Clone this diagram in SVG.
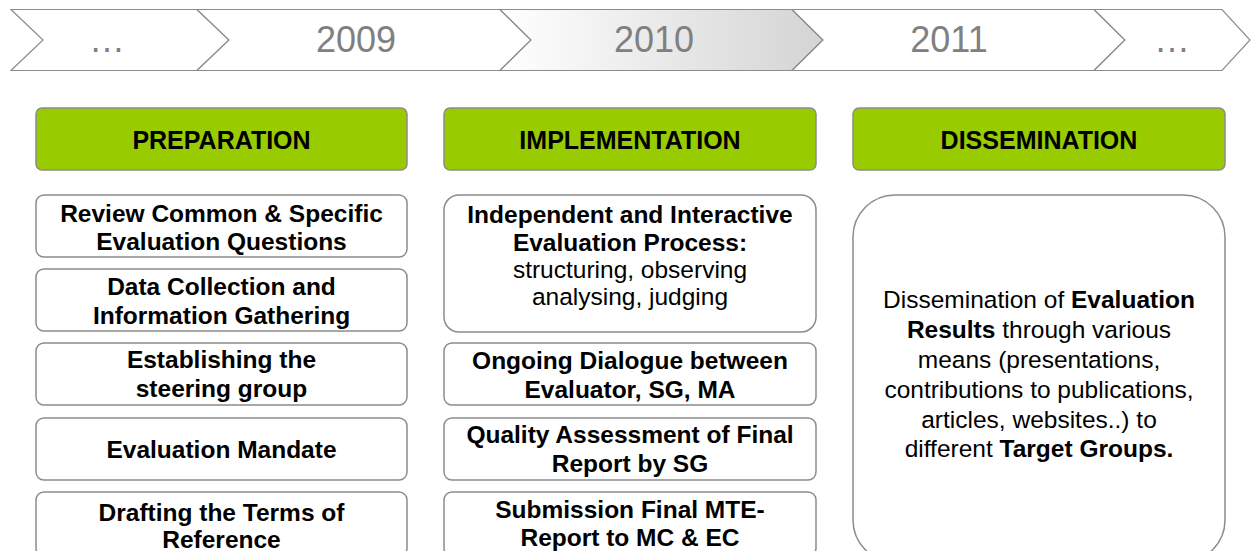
<svg xmlns="http://www.w3.org/2000/svg" width="1251" height="551" viewBox="0 0 1251 551">
<defs>
<linearGradient id="g2010" x1="0" y1="0" x2="1" y2="0">
<stop offset="0" stop-color="#ffffff"/>
<stop offset="1" stop-color="#d4d4d4"/>
</linearGradient>
</defs>
<style>
.chev{fill:#ffffff;stroke:#8c8c8c;stroke-width:1.2}
.year{font-family:"Liberation Sans",Arial,sans-serif;font-size:36px;fill:#808080;text-anchor:middle}
.hdr{fill:#99cc00;stroke:#8c8c8c;stroke-width:1.5}
.hdrt{font-family:"Liberation Sans",Arial,sans-serif;font-size:25px;font-weight:bold;fill:#000;text-anchor:middle}
.box{fill:#ffffff;stroke:#8c8c8c;stroke-width:1.5}
.bt{font-family:"Liberation Sans",Arial,sans-serif;font-size:24.5px;font-weight:bold;fill:#000;text-anchor:middle}
.rt{font-family:"Liberation Sans",Arial,sans-serif;font-size:24.5px;fill:#000;text-anchor:middle}
.b{font-weight:bold}
</style>
<g id="timeline">
<polygon class="chev" points="11,9.5 197,9.5 229,40 197,70.5 11,70.5 43,40"/>
<polygon class="chev" points="197,9.5 500,9.5 531,40 500,70.5 197,70.5 229,40"/>
<polygon class="chev" style="fill:url(#g2010)" points="500,9.5 792,9.5 823,40 792,70.5 500,70.5 531,40"/>
<polygon class="chev" points="792,9.5 1094,9.5 1125,40 1094,70.5 792,70.5 823,40"/>
<polygon class="chev" points="1094,9.5 1222,9.5 1250,40 1222,70.5 1094,70.5 1125,40"/>
<text class="year" x="107" y="52">…</text>
<text class="year" x="356" y="52">2009</text>
<text class="year" x="654" y="52">2010</text>
<text class="year" x="949" y="52">2011</text>
<text class="year" x="1172" y="52">…</text>
</g>
<g id="preparation">
<rect class="hdr" x="36" y="108" width="371" height="62" rx="6"/>
<text class="hdrt" x="221.5" y="149">PREPARATION</text>
</g>
<g id="implementation">
<rect class="hdr" x="444" y="108" width="372" height="62" rx="6"/>
<text class="hdrt" x="630" y="149">IMPLEMENTATION</text>
</g>
<g id="dissemination">
<rect class="hdr" x="853" y="108" width="372" height="62" rx="6"/>
<text class="hdrt" x="1039" y="149">DISSEMINATION</text>
</g>
<g id="review">
<rect class="box" x="36" y="195" width="371" height="62" rx="8"/>
<text class="bt" x="221.5" y="222">Review Common &amp; Specific</text>
<text class="bt" x="221.5" y="250">Evaluation Questions</text>
</g>
<g id="data">
<rect class="box" x="36" y="269" width="371" height="62" rx="8"/>
<text class="bt" x="221.5" y="295">Data Collection and</text>
<text class="bt" x="221.5" y="324">Information Gathering</text>
</g>
<g id="steering">
<rect class="box" x="36" y="343" width="371" height="62" rx="8"/>
<text class="bt" x="221.5" y="368">Establishing the</text>
<text class="bt" x="221.5" y="397">steering group</text>
</g>
<g id="mandate">
<rect class="box" x="36" y="418" width="371" height="62" rx="8"/>
<text class="bt" x="221.5" y="458">Evaluation Mandate</text>
</g>
<g id="terms">
<rect class="box" x="36" y="492" width="371" height="64" rx="8"/>
<text class="bt" x="221.5" y="521">Drafting the Terms of</text>
<text class="bt" x="221.5" y="548">Reference</text>
</g>
<g id="process">
<rect class="box" x="444" y="195" width="372" height="137" rx="15"/>
<text class="bt" x="630" y="223">Independent and Interactive</text>
<text class="bt" x="630" y="251">Evaluation Process:</text>
<text class="rt" x="630" y="278">structuring, observing</text>
<text class="rt" x="630" y="305">analysing, judging</text>
</g>
<g id="dialogue">
<rect class="box" x="444" y="343" width="372" height="62" rx="8"/>
<text class="bt" x="630" y="369">Ongoing Dialogue between</text>
<text class="bt" x="630" y="398">Evaluator, SG, MA</text>
</g>
<g id="quality">
<rect class="box" x="444" y="418" width="372" height="62" rx="8"/>
<text class="bt" x="630" y="443">Quality Assessment of Final</text>
<text class="bt" x="630" y="472">Report by SG</text>
</g>
<g id="submission">
<rect class="box" x="444" y="492" width="372" height="64" rx="8"/>
<text class="bt" x="630" y="518">Submission Final MTE-</text>
<text class="bt" x="630" y="546">Report to MC &amp; EC</text>
</g>
<g id="results">
<rect class="box" x="853" y="195" width="372" height="367" rx="42"/>
<text class="rt" x="1039" y="308">Dissemination of <tspan class="b">Evaluation</tspan></text>
<text class="rt" x="1039" y="338"><tspan class="b">Results</tspan> through various</text>
<text class="rt" x="1039" y="368">means (presentations,</text>
<text class="rt" x="1039" y="398">contributions to publications,</text>
<text class="rt" x="1039" y="428">articles, websites..) to</text>
<text class="rt" x="1039" y="457">different <tspan class="b">Target Groups.</tspan></text>
</g>
<g id="connectors"/>
</svg>
